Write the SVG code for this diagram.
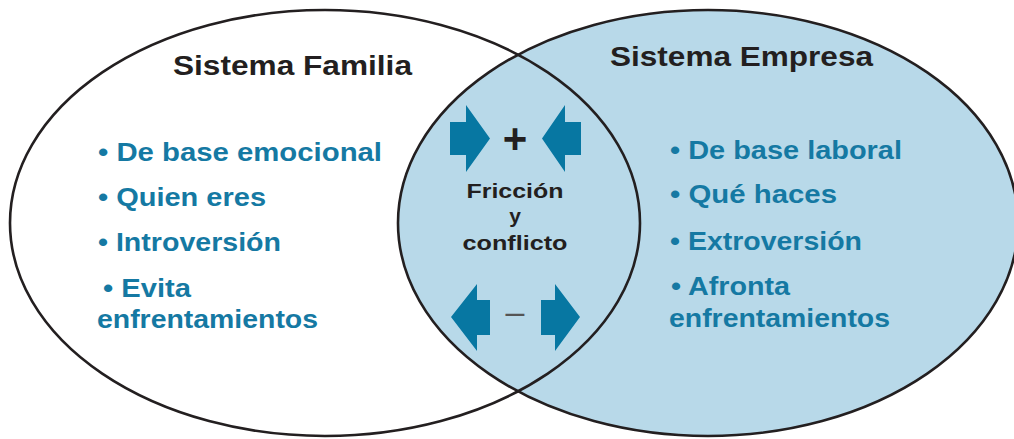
<svg xmlns="http://www.w3.org/2000/svg" width="1014" height="439" viewBox="0 0 1014 439">
  <style>
    .outline { fill: none; stroke: #231f20; stroke-width: 2.6; }
    .title { font-family: "Liberation Sans", Arial, sans-serif; font-weight: 700; font-size: 27px; fill: #231f20; }
    .item { font-family: "Liberation Sans", Arial, sans-serif; font-weight: 700; font-size: 25px; fill: #1579a3; }
    .mid { font-family: "Liberation Sans", Arial, sans-serif; font-weight: 700; font-size: 21px; fill: #231f20; text-anchor: middle; }
    .arrow { fill: #0777a2; }
  </style>
  <rect width="1014" height="439" fill="#ffffff"/>
  <g id="sistema-familia">
    <ellipse cx="325" cy="223" rx="315" ry="213" fill="#ffffff"/>
  </g>
  <g id="sistema-empresa">
    <ellipse cx="708" cy="223" rx="310" ry="213" fill="#b8d9e9"/>
  </g>
  <g id="outlines">
    <ellipse class="outline" cx="325" cy="223" rx="315" ry="213"/>
    <ellipse class="outline" cx="708" cy="223" rx="310" ry="213"/>
  </g>
  <g id="familia-text">
    <text class="title" x="173" y="75" textLength="239" lengthAdjust="spacingAndGlyphs">Sistema Familia</text>
    <text class="item" x="98" y="161" textLength="284" lengthAdjust="spacingAndGlyphs">• De base emocional</text>
    <text class="item" x="98" y="206" textLength="168" lengthAdjust="spacingAndGlyphs">• Quien eres</text>
    <text class="item" x="98" y="251" textLength="183" lengthAdjust="spacingAndGlyphs">• Introversión</text>
    <text class="item" x="103" y="297" textLength="88" lengthAdjust="spacingAndGlyphs">• Evita</text>
    <text class="item" x="97" y="328" textLength="221" lengthAdjust="spacingAndGlyphs">enfrentamientos</text>
  </g>
  <g id="empresa-text">
    <text class="title" x="610" y="66" textLength="263" lengthAdjust="spacingAndGlyphs">Sistema Empresa</text>
    <text class="item" x="670" y="159" textLength="232" lengthAdjust="spacingAndGlyphs">• De base laboral</text>
    <text class="item" x="670" y="203" textLength="167" lengthAdjust="spacingAndGlyphs">• Qué haces</text>
    <text class="item" x="670" y="250" textLength="192" lengthAdjust="spacingAndGlyphs">• Extroversión</text>
    <text class="item" x="671" y="295" textLength="119" lengthAdjust="spacingAndGlyphs">• Afronta</text>
    <text class="item" x="669" y="327" textLength="221" lengthAdjust="spacingAndGlyphs">enfrentamientos</text>
  </g>
  <g id="interseccion">
    <text class="mid" x="515" y="153" style="font-size:42px">+</text>
    <text class="mid" x="515" y="198" textLength="97" lengthAdjust="spacingAndGlyphs">Fricción</text>
    <text class="mid" x="515" y="223">y</text>
    <text class="mid" x="515" y="250" textLength="105" lengthAdjust="spacingAndGlyphs">conflicto</text>
    <text class="mid" x="515" y="323" style="font-size:34px;font-weight:400;fill:#555555">–</text>
  </g>
  <g id="arrows">
    <path class="arrow" d="M450,122 H466 V105 L490,138.5 L466,172 V155 H450 Z"/>
    <path class="arrow" d="M581,122 H565 V105 L542,138.5 L565,172 V155 H581 Z"/>
    <path class="arrow" d="M490,300 H477 V284 L451,317 L477,351 V335 H490 Z"/>
    <path class="arrow" d="M541,300 H555 V284 L580,317 L555,351 V335 H541 Z"/>
  </g>
</svg>
